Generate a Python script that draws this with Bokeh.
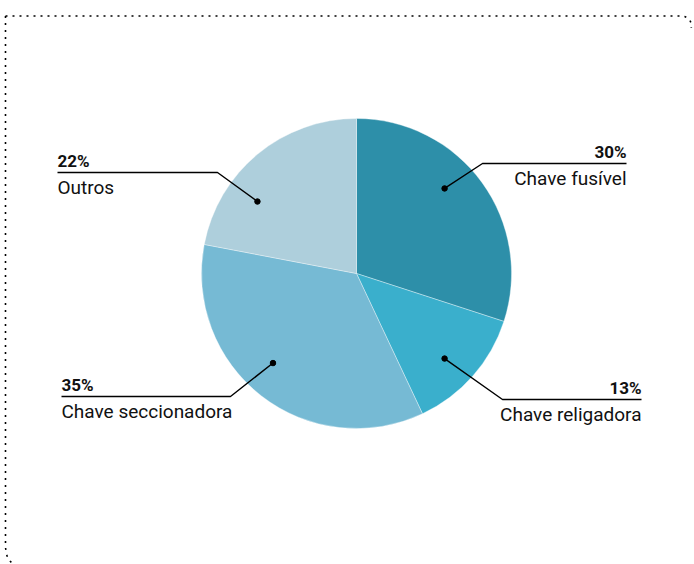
import numpy as np
from bokeh.plotting import figure
from bokeh.models import Range1d, ColumnDataSource
from bokeh.core.properties import value
from bokeh.embed import file_html
from bokeh.resources import INLINE

# ---- data ----
categories = ["Chave fusível", "Chave religadora", "Chave seccionadora", "Outros"]
shares = [30, 13, 35, 22]
pct_labels = ["30%", "13%", "35%", "22%"]
colors = ["#2d8fa9", "#3aafcc", "#76bad4", "#aecfdc"]

# ---- layout (pixel units, y up) ----
W, H = 694, 564
CX, CY, R = 356, 291, 155
dot_angles = [44, -44, -133, 144]          # where the leader dots sit
dot_frac = 0.79
# text anchor x, underline y, elbow x, align
label_x = [626, 641, 61, 57]
underline_y = [401, 165, 168, 392]
elbow_x = [482, 502, 230, 217]
align = ["right", "right", "left", "left"]
FONT = "Roboto"

p = figure(width=W, height=H, output_backend="svg", toolbar_location=None,
           x_range=Range1d(0, W), y_range=Range1d(0, H), min_border=0,
           background_fill_color="white", border_fill_color="white")
p.axis.visible = False
p.grid.visible = False
p.outline_line_color = None

# pie wedges
total = float(sum(shares))
cum = np.cumsum([0] + shares) / total
start = [np.deg2rad(90 - 360 * cum[i + 1]) for i in range(len(shares))]
end = [np.deg2rad(90 - 360 * cum[i]) for i in range(len(shares))]
src = ColumnDataSource(dict(start=start, end=end, color=colors, cat=categories))
p.wedge(x=CX, y=CY, radius=R, start_angle="start", end_angle="end",
        direction="anticlock", fill_color="color", line_color="white",
        line_alpha=0.35, line_width=1, source=src)

# labels with leader lines
for i in range(len(shares)):
    a = np.deg2rad(dot_angles[i])
    dx = CX + dot_frac * R * np.cos(a)
    dy = CY + dot_frac * R * np.sin(a)
    uy = underline_y[i]
    lx = label_x[i]
    ex = elbow_x[i]
    p.line([lx, ex, dx], [uy, uy, dy], line_color="black", line_width=1.4)
    p.scatter([dx], [dy], size=5.5, fill_color="black", line_color="black")
    p.text([lx], [uy + 11.5], text=[pct_labels[i]], text_font=value(FONT),
           text_font_size="17px", text_font_style="bold", text_color="#111111",
           text_align=align[i], text_baseline="alphabetic")
    p.text([lx], [uy - 15], text=[categories[i]], text_font=value(FONT),
           text_font_size="19px", text_color="#111111",
           text_align=align[i], text_baseline="alphabetic")

# dotted frame (decoration)
top_y = 548.5
left_x = 5
t1 = np.linspace(np.pi / 2, -0.2, 12)
bx = [left_x, 681.0] + list(681 + 10 * np.cos(t1))
by = [top_y, top_y] + list(top_y - 10 + 10 * np.sin(t1))
p.line(bx, by, line_color="black", line_width=1.6, line_dash="2 5")
lx_ = [left_x, left_x, 6, 8, 12]
ly_ = [top_y, 17, 10, 5, 1]
p.line(lx_, ly_, line_color="black", line_width=1.6, line_dash="2 5")

open("out.html", "w").write(file_html(p, INLINE))
